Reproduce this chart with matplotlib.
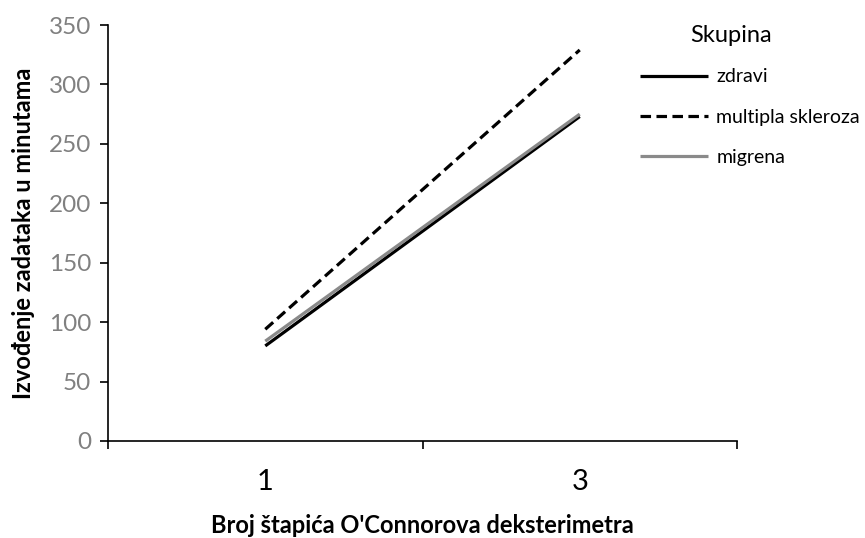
import matplotlib.pyplot as plt

plt.rcParams['font.family'] = ['Lato', 'DejaVu Sans']

categories = ['1', '3']
zdravi = [80, 273]
multipla_skleroza = [94, 329]
migrena = [84, 275]

fig = plt.figure(figsize=(8.65, 5.38), dpi=100)
ax = fig.add_axes([0.1249, 0.1803, 0.852 - 0.1249, 0.9535 - 0.1803])

xpos = [0.5, 1.5]
ax.plot(xpos, zdravi, color='black', lw=2.3, label='zdravi', solid_capstyle='butt')
ax.plot(xpos, multipla_skleroza, color='black', lw=2.3, ls=(0, (3.3, 1.7)),
        label='multipla skleroza', dash_capstyle='butt')
ax.plot(xpos, migrena, color='#8a8a8a', lw=2.3, label='migrena', solid_capstyle='butt')

ax.set_xlim(0, 2)
ax.set_ylim(0, 350)
ax.set_yticks(range(0, 351, 50))
ax.set_xticks([0, 1, 2])
ax.set_xticklabels([])
ax.set_xticks(xpos, minor=True)
ax.set_xticklabels(categories, minor=True)
ax.tick_params(axis='x', which='minor', length=0, labelsize=21, pad=20)
ax.tick_params(axis='x', which='major', length=6, width=1.2, direction='out')
ax.tick_params(axis='y', length=6, width=1.2, labelsize=17.5, labelcolor='#808080', pad=6)

for s in ['top', 'right']:
    ax.spines[s].set_visible(False)
for s in ['left', 'bottom']:
    ax.spines[s].set_linewidth(1.2)

ax.set_xlabel("Broj štapića O'Connorova deksterimetra", fontsize=17, fontweight='bold', labelpad=14)
ax.set_ylabel('Izvođenje zadataka u minutama', fontsize=17, fontweight='bold', labelpad=10)

fig.text(731 / 865, 1 - 35 / 538, 'Skupina', fontsize=17, ha='center', va='center')
leg = ax.legend(loc='upper left', bbox_to_anchor=(0.729, 0.891),
                bbox_transform=fig.transFigure, frameon=False, fontsize=14,
                handlelength=3.5, handletextpad=0.4, labelspacing=1.2, borderpad=0)

fig.savefig('out.png', dpi=100)
